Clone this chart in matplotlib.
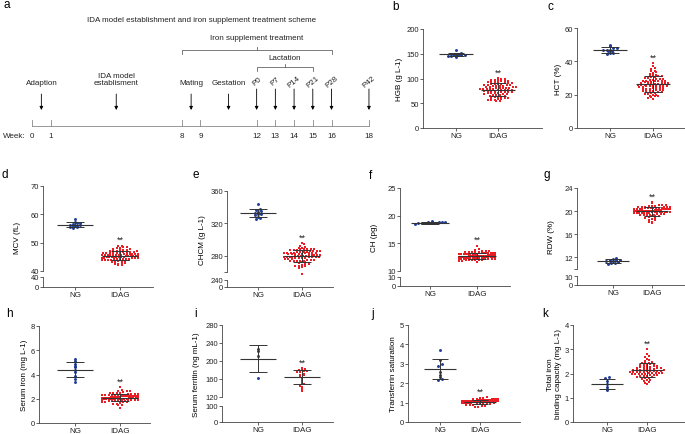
import numpy as np
import matplotlib
matplotlib.use("Agg")
import matplotlib.pyplot as plt

plt.rcParams['font.family'] = ['Liberation Sans', 'DejaVu Sans']
plt.rcParams['font.size'] = 5.8

# --------------------------
# scheme (panel a)
# --------------------------
weeks = [0, 1, 8, 9, 12, 13, 14, 15, 16, 18]
events = ["Adaption", "IDA model\nestablisment", "Mating", "Gestation"]
event_weeks = [0.5, 4.5, 8.5, 10.5]
pnd_labels = ["P0", "P7", "P14", "P21", "P28", "P42"]
pnd_weeks = [12, 13, 14, 15, 16, 18]
iron_span = [8, 16]
lactation_span = [12, 15]

# --------------------------
# blood values, NG vs IDAG
# --------------------------
groups = ["NG", "IDAG"]

hgb_ng = [148, 147, 149, 146, 150, 158, 145, 148, 151, 147, 149, 144]
hgb_idag = [101, 99, 98, 97, 96, 96, 95, 94, 94, 93,
            93, 92, 92, 91, 90, 90, 89, 89, 88, 88,
            87, 87, 86, 86, 85, 85, 84, 84, 83, 83,
            82, 82, 81, 81, 80, 80, 80, 79, 79, 78,
            78, 78, 77, 77, 76, 76, 76, 75, 75, 74,
            74, 73, 73, 72, 72, 71, 71, 70, 70, 69,
            68, 68, 67, 66, 66, 65, 64, 63, 63, 62,
            61, 60, 60, 59, 58, 57, 56, 56, 55, 54]

hct_ng = [47, 48, 46, 45, 50, 47, 46, 49, 44.5, 47, 48, 45]
hct_idag = [39, 37.5, 36, 35.5, 34.5, 34, 33.5, 33, 32.5, 32,
            31.5, 31, 31, 30.5, 30, 30, 29.5, 29.5, 29, 29,
            28.5, 28.5, 28, 28, 28, 27.5, 27.5, 27.5, 27, 27,
            27, 26.5, 26.5, 26.5, 26, 26, 26, 25.5, 25.5, 25.5,
            25, 25, 25, 24.5, 24.5, 24, 24, 24, 23.5, 23.5,
            23, 23, 22.5, 22.5, 22, 22, 21.5, 21.5, 21, 21,
            20.5, 20.5, 20, 20, 19.5, 19, 19, 18.5, 18, 17.5,
            28.2, 27.2, 26.2, 25.2, 29.2, 24.2, 30.8, 23.2, 31.8, 22.8]

mcv_ng = [56.2, 57.0, 58.2, 55.6, 56.8, 55.2, 56.4, 57.4, 55.9, 56.0, 55.5, 56.6]
mcv_idag = [49.0, 48.7, 48.5, 48.3, 48.1, 48.0, 47.8, 47.6, 47.5, 47.4,
            47.2, 47.1, 47.0, 46.9, 46.8, 46.7, 46.6, 46.5, 46.4, 46.3,
            46.2, 46.2, 46.1, 46.0, 46.0, 45.9, 45.8, 45.8, 45.7, 45.6,
            45.6, 45.5, 45.5, 45.4, 45.3, 45.3, 45.2, 45.1, 45.1, 45.0,
            45.0, 44.9, 44.8, 44.8, 44.7, 44.6, 44.6, 44.5, 44.4, 44.3,
            44.3, 44.2, 44.1, 44.0, 43.9, 43.8, 43.7, 43.6, 43.5, 43.3,
            43.2, 43.0, 42.8, 42.6, 42.4, 42.2, 46.4, 45.7, 45.2, 44.9,
            46.8, 44.4, 47.3, 43.9, 45.9, 45.4, 44.7, 46.1, 44.0, 42.0]

chcm_ng = [344, 338, 336, 335, 332, 331, 330, 334, 328, 327, 333, 326]
chcm_idag = [296, 294, 292, 291, 290, 290, 289, 289, 288, 288,
             287, 287, 286, 286, 286, 285, 285, 285, 284, 284,
             284, 283, 283, 283, 282, 282, 282, 282, 281, 281,
             281, 281, 280, 280, 280, 280, 279, 279, 279, 278,
             278, 278, 277, 277, 277, 276, 276, 276, 275, 275,
             274, 274, 273, 273, 272, 272, 271, 270, 270, 269,
             268, 268, 267, 266, 265, 258, 283, 281, 279, 285,
             277, 287, 275, 289, 282, 280, 278, 284, 286, 274]

ch_ng = [18.8, 19.0, 18.7, 18.6, 18.8, 18.5, 18.7, 18.9, 18.6, 18.7, 18.8, 18.6]
ch_idag = [14.6, 13.9, 13.8, 13.7, 13.6, 13.5, 13.5, 13.4, 13.4, 13.3,
           13.3, 13.3, 13.2, 13.2, 13.2, 13.1, 13.1, 13.1, 13.0, 13.0,
           13.0, 13.0, 12.9, 12.9, 12.9, 12.9, 12.8, 12.8, 12.8, 12.8,
           12.7, 12.7, 12.7, 12.7, 12.6, 12.6, 12.6, 12.6, 12.5, 12.5,
           12.5, 12.5, 12.4, 12.4, 12.4, 12.3, 12.3, 12.3, 12.2, 12.2,
           12.2, 12.1, 12.1, 12.1, 12.0, 12.0, 12.0, 11.9, 11.9, 11.8,
           11.8, 11.7, 13.4, 13.2, 13.0, 12.8, 12.6, 12.4, 12.2, 13.1,
           12.9, 12.7, 12.5, 12.3, 13.3, 12.1, 13.6, 12.0, 12.8, 12.6]

rdw_ng = [11.9, 11.8, 11.6, 11.5, 11.4, 11.3, 11.2, 11.1, 11.0, 10.9, 11.3, 11.5]
rdw_idag = [21.6, 21.4, 21.1, 21.0, 20.9, 20.9, 20.8, 20.8, 20.7, 20.7,
            20.6, 20.6, 20.5, 20.5, 20.5, 20.4, 20.4, 20.4, 20.3, 20.3,
            20.3, 20.2, 20.2, 20.2, 20.1, 20.1, 20.1, 20.0, 20.0, 20.0,
            20.0, 19.9, 19.9, 19.9, 19.8, 19.8, 19.8, 19.7, 19.7, 19.7,
            19.6, 19.6, 19.5, 19.5, 19.4, 19.4, 19.3, 19.3, 19.2, 19.1,
            19.0, 18.9, 18.8, 18.6, 18.4, 18.2, 18.1, 18.0, 20.6, 20.3,
            20.0, 19.8, 20.4, 20.1, 19.6, 20.8, 20.2, 19.9, 20.5, 19.5,
            20.7, 19.4, 20.0, 20.3, 19.7, 21.0, 19.2, 20.9, 18.5, 20.1]

iron_ng = [5.3, 5.1, 4.9, 4.7, 4.6, 4.4, 4.2, 3.9, 3.6, 3.4]
iron_idag = [3.0, 2.75, 2.65, 2.6, 2.6, 2.55, 2.5, 2.5, 2.45, 2.45,
             2.4, 2.4, 2.4, 2.35, 2.35, 2.35, 2.3, 2.3, 2.3, 2.3,
             2.25, 2.25, 2.25, 2.25, 2.2, 2.2, 2.2, 2.2, 2.2, 2.15,
             2.15, 2.15, 2.15, 2.1, 2.1, 2.1, 2.1, 2.1, 2.05, 2.05,
             2.05, 2.05, 2.0, 2.0, 2.0, 2.0, 2.0, 1.95, 1.95, 1.95,
             1.95, 1.9, 1.9, 1.9, 1.9, 1.85, 1.85, 1.85, 1.8, 1.8,
             1.8, 1.75, 1.75, 1.7, 1.7, 1.65, 1.6, 1.55, 1.5, 1.45,
             1.25, 2.12, 2.08, 2.18, 2.02, 1.98, 2.22, 2.28, 1.92, 2.38]

ferritin_ng = [226, 222, 212, 162]
ferritin_idag = [185, 183, 180, 179, 178, 177, 176, 175, 172, 170,
                 168, 165, 160, 156, 152, 148, 145, 142, 138, 133]

tsat_ng = [3.7, 3.2, 3.0, 2.9, 2.6, 2.4, 2.3, 2.2, 2.15]
tsat_idag = [1.30, 1.26, 1.23, 1.21, 1.20, 1.19, 1.18, 1.17, 1.16, 1.16,
             1.15, 1.14, 1.14, 1.13, 1.13, 1.12, 1.12, 1.11, 1.11, 1.10,
             1.10, 1.10, 1.09, 1.09, 1.08, 1.08, 1.08, 1.07, 1.07, 1.07,
             1.06, 1.06, 1.06, 1.05, 1.05, 1.05, 1.04, 1.04, 1.04, 1.03,
             1.03, 1.03, 1.02, 1.02, 1.02, 1.01, 1.01, 1.00, 1.00, 1.00,
             0.99, 0.99, 0.98, 0.98, 0.97, 0.97, 0.96, 0.95, 0.94, 0.93,
             0.92, 0.91, 0.90, 0.88, 0.86, 0.84, 0.82, 0.79, 0.76, 1.05,
             1.08, 1.02, 1.11, 0.99, 1.06, 1.03, 1.09, 1.01, 1.04, 1.07]

tibc_ng = [1.85, 1.80, 1.70, 1.55, 1.45, 1.35, 1.30]
tibc_idag = [3.00, 2.80, 2.72, 2.68, 2.60, 2.55, 2.50, 2.48, 2.45, 2.42,
             2.40, 2.38, 2.35, 2.33, 2.30, 2.30, 2.28, 2.26, 2.25, 2.23,
             2.22, 2.20, 2.20, 2.18, 2.17, 2.15, 2.14, 2.12, 2.11, 2.10,
             2.10, 2.09, 2.08, 2.07, 2.06, 2.05, 2.04, 2.03, 2.02, 2.01,
             2.00, 1.99, 1.98, 1.97, 1.95, 1.94, 1.92, 1.90, 1.88, 1.86,
             1.84, 1.82, 1.80, 1.78, 1.75, 1.72, 1.68, 1.64, 1.60, 1.55,
             2.13, 2.16, 2.08, 2.21, 2.04, 2.27, 1.96, 2.36, 1.91, 2.44]

NG_COLOR = "#1f3c96"
IDAG_COLOR = "#ec1c24"
LINE_COLOR = "#333333"

W, H = 685, 435
fig = plt.figure(figsize=(W / 100, H / 100), dpi=100)


def rect(l, t, r, b):
    return [l / W, 1 - b / H, (r - l) / W, (b - t) / H]


def swarm(vals, center, ppy, ppx, row_px=2.2, col_px=3.4, max_w=36):
    # GraphPad-like rows; crowded rows get squeezed to max_w pixels
    v = np.asarray(vals, dtype=float)
    rows = np.round(v * ppy / row_px)
    xs = np.empty(len(v))
    for r in np.unique(rows):
        idx = np.where(rows == r)[0]
        idx = idx[np.argsort(v[idx])]
        n = len(idx)
        step = col_px if n < 2 else min(col_px, max_w / (n - 1))
        xs[idx] = center + (np.arange(n) - (n - 1) / 2) * step / ppx
    return xs


def style(ax, show_x=True):
    for s in ['top', 'right']:
        ax.spines[s].set_visible(False)
    for s in ['left', 'bottom']:
        ax.spines[s].set_linewidth(0.6)
        ax.spines[s].set_color('#444444')
    ax.tick_params(length=2, width=0.5, pad=1, labelsize=5.5, colors='#222222')
    if not show_x:
        ax.spines['bottom'].set_visible(False)
        ax.tick_params(axis='x', bottom=False, labelbottom=False)
    else:
        ax.set_xticks([1, 2])
        ax.set_xticklabels(groups, fontsize=5.8)


# --------------------------
# panel a: scheme
# --------------------------
px_week = 18.72
x0 = 32
axa = fig.add_axes(rect(0, 0, 385, 150))
axa.set_xlim(-x0 / px_week, (385 - x0) / px_week)
axa.set_ylim(150, 0)
axa.axis('off')
tc = '#222222'
axa.text(9.05, 20, "IDA model establishment and iron supplement treatment scheme",
         ha='center', va='center', fontsize=5.8, color=tc)
axa.plot([weeks[0], weeks[-1]], [127, 127], color='#888888', lw=0.6)
for w in weeks:
    axa.plot([w, w], [121, 127], color='#888888', lw=0.6)
    axa.text(w, 137, str(w), ha='center', va='center', fontsize=5.8, color=tc)
axa.text(-0.95, 137, "Week:", ha='center', va='center', fontsize=5.8, color=tc)

arrow = dict(arrowstyle='-|>', lw=0.6, color='k', mutation_scale=5, shrinkA=0, shrinkB=0)
for lab, w in zip(events, event_weeks):
    axa.annotate('', xy=(w, 111), xytext=(w, 95), arrowprops=arrow)
    axa.text(w, 87, lab, ha='center', va='bottom', fontsize=5.8, color=tc, linespacing=1.1)
for lab, w in zip(pnd_labels, pnd_weeks):
    axa.annotate('', xy=(w, 111), xytext=(w, 90), arrowprops=arrow)
    axa.text(w, 82, lab, ha='center', va='center', fontsize=5.8, color=tc, rotation=40)


def bracket(span, y, label, ly):
    a, b = span
    c = (a + b) / 2
    axa.plot([a, a, b, b], [y + 4, y, y, y + 4], color='#666666', lw=0.6)
    axa.plot([c, c], [y, y - 3], color='#666666', lw=0.6)
    axa.text(c, ly, label, ha='center', va='center', fontsize=5.8, color=tc)


bracket(iron_span, 51, "Iron supplement treatment", 39)
bracket(lactation_span, 68, "Lactation", 58)

# --------------------------
# scatter panels
# --------------------------
panels = [
    dict(letter='b', pos=(392, 10), ylabel='HGB (g L-1)', ng=hgb_ng, idag=hgb_idag,
         box=(423, 30, 542, 129), cx=(456, 498), ylim=(0, 200), yticks=[0, 50, 100, 150, 200]),
    dict(letter='c', pos=(548, 10), ylabel='HCT (%)', ng=hct_ng, idag=hct_idag,
         box=(577, 29, 685, 129), cx=(610, 653), ylim=(0, 60), yticks=[0, 20, 40, 60]),
    dict(letter='d', pos=(1, 178), ylabel='MCV (fL)', ng=mcv_ng, idag=mcv_idag,
         box=(43, 187, 153, 272), cx=(75, 120), ylim=(40, 70), yticks=[40, 50, 60, 70],
         lower=(278, 288), lower_ylim=(0, 40), lower_ticks=[0, 40]),
    dict(letter='e', pos=(192, 178), ylabel='CHCM (g L-1)', ng=chcm_ng, idag=chcm_idag,
         box=(227, 192, 333, 273), cx=(258, 302), ylim=(260, 360), yticks=[260, 280, 320, 360],
         blank=[260], lower=(281, 288), lower_ylim=(0, 240), lower_ticks=[0, 240]),
    dict(letter='f', pos=(369, 179), ylabel='CH (pg)', ng=ch_ng, idag=ch_idag,
         box=(400, 189, 510, 272), cx=(430, 477), ylim=(10, 25), yticks=[10, 15, 20, 25],
         lower=(278, 287), lower_ylim=(0, 10), lower_ticks=[0, 10]),
    dict(letter='g', pos=(543, 178), ylabel='RDW (%)', ng=rdw_ng, idag=rdw_idag,
         box=(577, 189, 685, 270), cx=(613, 652), ylim=(10, 24), yticks=[10, 12, 16, 20, 24],
         blank=[10], lower=(277, 286), lower_ylim=(0, 10), lower_ticks=[0, 10]),
    dict(letter='h', pos=(6, 317), ylabel='Serum iron (mg L-1)', ng=iron_ng, idag=iron_idag,
         box=(39, 327, 150, 424), cx=(75, 120), ylim=(0, 8), yticks=[0, 2, 4, 6, 8]),
    dict(letter='i', pos=(194, 317), ylabel='Serum ferritin (ng mL-1)', ng=ferritin_ng,
         idag=ferritin_idag, box=(222, 326, 333, 398), cx=(258, 302), ylim=(120, 280),
         yticks=[120, 160, 200, 240, 280], lower=(407, 423), lower_ylim=(0, 100),
         lower_ticks=[0, 100]),
    dict(letter='j', pos=(371, 317), ylabel='Transferrin saturation', ng=tsat_ng, idag=tsat_idag,
         box=(408, 326, 520, 423), cx=(440, 480), ylim=(0, 5), yticks=[0, 1, 2, 3, 4, 5]),
    dict(letter='k', pos=(542, 317), ylabel='Total iron\nbinding capacity (mg L-1)', ng=tibc_ng,
         idag=tibc_idag, box=(573, 326, 685, 423), cx=(607, 647), ylim=(0, 4),
         yticks=[0, 1, 2, 3, 4]),
]

for p in panels:
    L, T, R, B = p['box']
    N, I = p['cx']
    unit = I - N
    xlim = (1 - (N - L) / unit, 2 + (R - I) / unit)
    broken = 'lower' in p

    ax = fig.add_axes(rect(L, T, R, B))
    ax.set_xlim(*xlim)
    ax.set_ylim(*p['ylim'])
    ax.set_yticks(p['yticks'])
    blank = p.get('blank', [])
    ax.set_yticklabels(['' if t in blank else str(t) for t in p['yticks']])
    style(ax, show_x=not broken)

    ppy = (B - T) / (p['ylim'][1] - p['ylim'][0])
    for x, vals, col, mk in [(1, p['ng'], NG_COLOR, 'o'), (2, p['idag'], IDAG_COLOR, 's')]:
        v = np.asarray(vals, dtype=float)
        xs = swarm(v, x, ppy, unit)
        ax.scatter(xs, v, s=4.5, c=col, marker=mk, linewidths=0, zorder=3, clip_on=False)
        m, sd = v.mean(), v.std(ddof=1)
        ax.hlines(m, x - 0.4, x + 0.4, color=LINE_COLOR, lw=0.8, zorder=4)
        ax.vlines(x, m - sd, m + sd, color=LINE_COLOR, lw=0.7, zorder=4)
        ax.hlines([m - sd, m + sd], x - 0.2, x + 0.2, color=LINE_COLOR, lw=0.7, zorder=4)
    ax.annotate('**', (2, max(p['idag'])), xytext=(0, 1), textcoords='offset points',
                ha='center', va='bottom', fontsize=6.5, color='#222222')

    ax.set_ylabel(p['ylabel'], fontsize=5.8, labelpad=2, linespacing=1.1)
    if broken:
        lt, lb = p['lower']
        axl = fig.add_axes(rect(L, lt, R, lb))
        axl.set_xlim(*xlim)
        axl.set_ylim(*p['lower_ylim'])
        axl.set_yticks(p['lower_ticks'])
        style(axl)
        # center the label over both parts
        c = (T + lb) / 2
        ax.yaxis.set_label_coords(-0.2, (B - c) / (B - T))

    fig.text(p['pos'][0] / W, 1 - p['pos'][1] / H, p['letter'], fontsize=8.5,
             ha='left', va='baseline')

fig.text(3 / W, 1 - 8 / H, 'a', fontsize=8.5, ha='left', va='baseline')

fig.savefig('out.png', dpi=100)
